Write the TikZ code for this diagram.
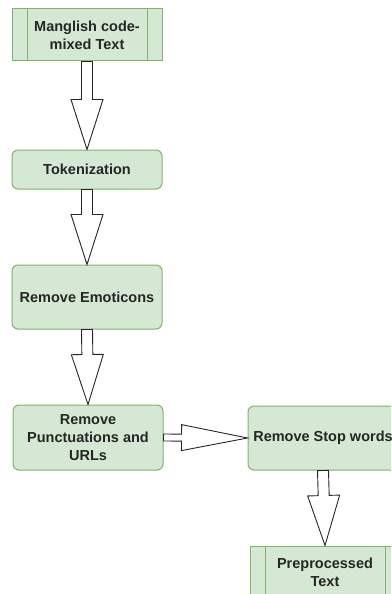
\documentclass[tikz,border=0pt]{standalone}
\usepackage{fontspec}
\setmainfont{Liberation Sans}
\usetikzlibrary{calc}
\definecolor{boxfill}{HTML}{D5E8D4}
\definecolor{boxline}{HTML}{82B366}

\begin{document}
\begin{tikzpicture}[x=1pt,y=-1pt,
    stage/.style={draw=boxline, fill=boxfill, line width=1pt, rounded corners=6pt,
      minimum width=150pt, inner sep=0pt, align=center, text=black!85,
      font=\bfseries\fontsize{14.5}{18}\selectfont},
    % box with the two extra side bars
    process/.style={stage, sharp corners, path picture={
        \draw[boxline, line width=1pt] ([xshift=15pt]path picture bounding box.north west) -- ([xshift=15pt]path picture bounding box.south west);
        \draw[boxline, line width=1pt] ([xshift=-15pt]path picture bounding box.north east) -- ([xshift=-15pt]path picture bounding box.south east);}},
    % hollow block arrow: half shaft width, half head width, head length
    fat arrow/.style n args={3}{draw=black!85, fill=white, line width=0.9pt, line join=miter,
      to path={
        ($(\tikztostart)!#1!90:(\tikztotarget)$)
        -- ($($(\tikztotarget)!#3!(\tikztostart)$)!#1!90:(\tikztotarget)$)
        -- ($($(\tikztotarget)!#3!(\tikztostart)$)!#2!90:(\tikztotarget)$)
        -- (\tikztotarget)
        -- ($($(\tikztotarget)!#3!(\tikztostart)$)!#2!-90:(\tikztotarget)$)
        -- ($($(\tikztotarget)!#3!(\tikztostart)$)!#1!-90:(\tikztotarget)$)
        -- ($(\tikztostart)!#1!-90:(\tikztotarget)$)
        -- cycle}},
    down arrow/.style={fat arrow={5.5pt}{16pt}{50pt}},
    side arrow/.style={fat arrow={3.5pt}{13pt}{66pt}}]
  \useasboundingbox (0,0) rectangle (391,594);
  \clip (0,0) rectangle (391,594);

  % pipeline stages
  \node[process, minimum height=52pt] (raw) at (87,35) {Manglish code-\\mixed Text};
  \node[stage, minimum height=39pt] (tok) at (87,169.5) {Tokenization};
  \node[stage, minimum height=64pt] (emo) at (87,297) {Remove Emoticons};
  \node[stage, minimum height=65pt] (punc) at (88,437.5) {Remove\\Punctuations and\\URLs};
  \node[stage, minimum height=64pt] (stop) at (323,438) {Remove Stop words};
  \node[process, minimum height=52pt] (clean) at (325,572) {Preprocessed\\Text};

  % arrows between stages
  \draw[down arrow] (raw.south) to (tok.north);
  \draw[down arrow] (tok.south) to (emo.north);
  \draw[down arrow] (emo.south) to (punc.north);
  \draw[side arrow] (punc.east) to (stop.west);
  \draw[down arrow] (stop.south) to (clean.north);
\end{tikzpicture}
\end{document}
